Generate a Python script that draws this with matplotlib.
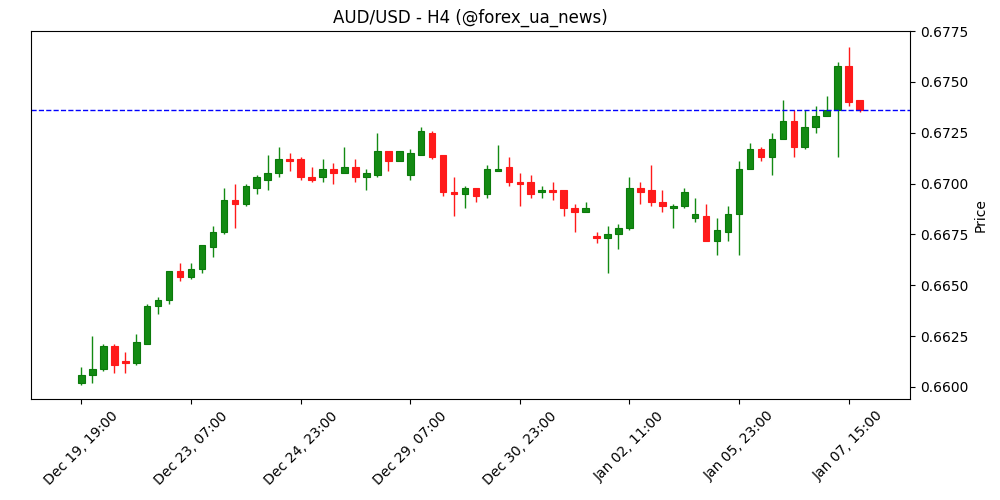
import numpy as np
import matplotlib
matplotlib.use('Agg')
import matplotlib.pyplot as plt

# OHLC per H4 candle
opens = [.6602, .6606, .6609, .6620, .6613, .6612, .6621, .6640, .6643, .6657,
         .6654, .6658, .6669, .6676, .6692, .6690, .6698, .6702, .6705, .6712,
         .6712, .6703, .6703, .6707, .6705, .6708, .6703, .6704, .6716, .6711,
         .6704, .6714, .6725, .6714, .6696, .6695, .6698, .6695, .6706, .6708,
         .6701, .6701, .6696, .6697, .6697, .6688, .6686, .6674, .6673, .6675,
         .6678, .6698, .6697, .6691, .6688, .6689, .6683, .6684, .6672, .6676,
         .6685, .6707, .6717, .6713, .6722, .6731, .6718, .6728, .6733, .6736,
         .6758, .6741]
closes = [.6606, .6609, .6620, .6611, .6612, .6622, .6640, .6643, .6657, .6654,
          .6658, .6670, .6676, .6692, .6690, .6699, .6703, .6705, .6712, .6711,
          .6703, .6702, .6707, .6705, .6708, .6703, .6705, .6716, .6711, .6716,
          .6715, .6726, .6713, .6696, .6695, .6698, .6694, .6707, .6707, .6701,
          .6700, .6695, .6697, .6696, .6688, .6686, .6688, .6673, .6675, .6678,
          .6698, .6696, .6691, .6689, .6689, .6696, .6685, .6672, .6677, .6685,
          .6707, .6717, .6713, .6722, .6731, .6718, .6728, .6733, .6736, .6758,
          .6740, .6736]
highs = [.6610, .6625, .6621, .6621, .6617, .6626, .6641, .6644, .6657, .6661,
         .6661, .6670, .6679, .6698, .6700, .6700, .6704, .6714, .6718, .6715,
         .6713, .6708, .6712, .6710, .6718, .6712, .6707, .6725, .6716, .6716,
         .6717, .6728, .6726, .6714, .6703, .6699, .6698, .6709, .6719, .6713,
         .6705, .6704, .6699, .6701, .6697, .6690, .6691, .6676, .6679, .6680,
         .6703, .6701, .6709, .6697, .6690, .6698, .6693, .6690, .6683, .6689,
         .6711, .6720, .6718, .6725, .6741, .6736, .6736, .6738, .6743, .6760,
         .6767, .6741]
lows = [.6601, .6602, .6608, .6607, .6607, .6611, .6621, .6636, .6641, .6652,
        .6653, .6656, .6664, .6675, .6678, .6689, .6695, .6697, .6703, .6706,
        .6702, .6701, .6701, .6700, .6705, .6701, .6697, .6703, .6706, .6711,
        .6702, .6714, .6712, .6694, .6684, .6688, .6691, .6693, .6706, .6699,
        .6689, .6693, .6693, .6692, .6684, .6676, .6686, .6671, .6656, .6668,
        .6677, .6690, .6689, .6686, .6678, .6688, .6681, .6672, .6665, .6672,
        .6665, .6707, .6711, .6704, .6722, .6713, .6717, .6725, .6733, .6713,
        .6738, .6735]
tick_labels = ['Dec 19, 19:00', 'Dec 23, 07:00', 'Dec 24, 23:00', 'Dec 29, 07:00',
               'Dec 30, 23:00', 'Jan 02, 11:00', 'Jan 05, 23:00', 'Jan 07, 15:00']
last_price = closes[-1]

fig, ax = plt.subplots(figsize=(10, 5), dpi=100)
fig.subplots_adjust(left=0.031, right=0.91, top=0.938, bottom=0.202)

for i in range(len(opens)):
    o, c, h, l = opens[i], closes[i], highs[i], lows[i]
    col = '#138a13' if c >= o else '#ff1a1a'
    edge = '#0b7a0b' if c >= o else '#ff1a1a'
    ax.vlines(i, l, h, color=col, linewidth=1, zorder=1)
    body = max(abs(c - o), 0.00003)
    ax.bar(i, body, bottom=min(o, c), width=0.6, color=col, edgecolor=edge,
           linewidth=0.8, zorder=2)

ax.axhline(last_price, color='blue', linestyle='--', linewidth=1)

ax.set_xlim(-4.6, 75.6)
ax.set_ylim(0.65941, 0.6775)
ax.set_xticks(range(0, 80, 10))
ax.set_xticklabels(tick_labels, rotation=45)
ax.yaxis.tick_right()
ax.yaxis.set_label_position('right')
ax.set_yticks(np.arange(0.66, 0.6776, 0.0025))
ax.yaxis.set_major_formatter(plt.FormatStrFormatter('%.4f'))
ax.set_ylabel('Price')
ax.set_title('AUD/USD - H4 (@forex_ua_news)')

fig.savefig('out.png')
